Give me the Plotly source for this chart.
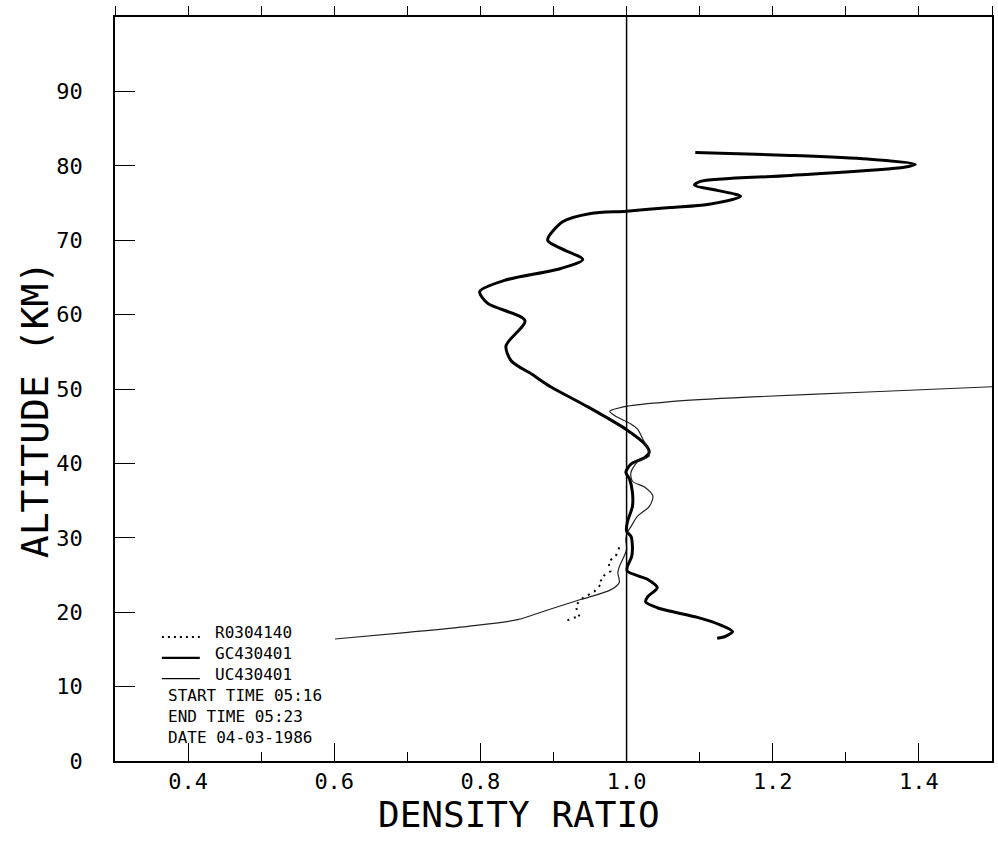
import plotly.graph_objects as go

# ---- data ----
gc_ratio = [1.094, 1.224, 1.330, 1.395, 1.380, 1.224, 1.101, 1.093, 1.124, 1.156, 1.111,
            1.060, 1.000, 0.951, 0.913, 0.892, 0.910, 0.940, 0.910, 0.833, 0.799, 0.810,
            0.861, 0.835, 0.842, 0.870, 0.896, 0.947, 0.999, 1.025, 1.031, 1.025, 1.006,
            0.999, 1.004, 1.008, 1.008, 1.001, 1.000, 1.006, 1.008, 1.007, 1.001, 1.001,
            1.029, 1.042, 1.029, 1.026, 1.042, 1.097, 1.128, 1.145, 1.134, 1.124]
gc_alt = [81.8, 81.4, 80.9, 80.2, 79.8, 78.7, 77.9, 77.4, 76.7, 75.9, 74.8,
          74.4, 73.9, 73.6, 72.5, 70.0, 68.9, 67.4, 66.2, 64.6, 63.1, 61.5,
          59.2, 55.8, 53.8, 52.0, 50.3, 47.6, 44.6, 42.6, 41.5, 40.8, 39.9,
          38.8, 37.9, 36.1, 34.2, 32.1, 30.9, 30.2, 28.8, 27.5, 26.1, 25.5,
          24.4, 23.3, 22.1, 21.4, 20.6, 19.3, 18.3, 17.4, 16.7, 16.5]

uc_ratio = [1.500, 1.330, 1.165, 1.060, 1.001, 0.977, 0.984, 1.006, 1.015, 1.022, 1.029,
            1.031, 1.015, 1.006, 1.008, 1.025, 1.036, 1.031, 1.015, 1.006, 1.001, 0.999,
            1.000, 0.990, 0.988, 0.990, 0.978, 0.937, 0.892, 0.851, 0.783, 0.701, 0.601]
uc_alt = [50.3, 49.6, 48.9, 48.3, 47.7, 47.0, 46.4, 45.3, 44.6, 43.3, 41.9,
          41.0, 40.2, 38.8, 37.6, 36.8, 35.6, 34.2, 32.9, 31.5, 30.7, 29.8,
          28.4, 26.1, 25.3, 24.0, 23.0, 21.7, 20.3, 19.0, 18.1, 17.3, 16.4]

r_ratio = [0.990, 0.985, 0.975, 0.978, 0.971, 0.964, 0.967, 0.960, 0.956, 0.937,
           0.930, 0.933, 0.936, 0.929, 0.919]
r_alt = [28.7, 27.5, 26.8, 25.5, 25.1, 24.4, 24.0, 23.3, 22.8, 21.7,
         20.8, 20.1, 19.3, 19.3, 18.9]

series_names = ["R0304140", "GC430401", "UC430401"]
info_lines = ["START TIME 05:16", "END TIME 05:23", "DATE 04-03-1986"]

x_tickvals = [0.4, 0.6, 0.8, 1.0, 1.2, 1.4]
x_ticktext = ["0.4", "0.6", "0.8", "1.0", "1.2", "1.4"]
y_tickvals = [0, 10, 20, 30, 40, 50, 60, 70, 80, 90]
y_ticktext = ["0", "10", "20", "30", "40", "50", "60", "70", "80", "90"]
x_title = "DENSITY RATIO"
y_title = "ALTITUDE (KM)"
REF_RATIO = 1.0

FONT = "DejaVu Sans Mono"
W, H = 998, 842
ML, MR, MT, MB = 115, 4, 17, 81
LEG_FS = 16
ROW = 1.3 * LEG_FS  # plotly line spacing

fig = go.Figure()
fig.add_trace(go.Scatter(x=r_ratio, y=r_alt, mode="lines", name=series_names[0],
                         line=dict(color="black", width=2, dash="2px,5px"), showlegend=False))
fig.add_trace(go.Scatter(x=gc_ratio, y=gc_alt, mode="lines", name=series_names[1],
                         line=dict(color="black", width=3, shape="spline", smoothing=0.8),
                         showlegend=False))
fig.add_trace(go.Scatter(x=uc_ratio, y=uc_alt, mode="lines", name=series_names[2],
                         line=dict(color="#222", width=1.2, shape="spline", smoothing=0.8),
                         showlegend=False))

fig.add_shape(type="line", xref="x", yref="y", x0=REF_RATIO, x1=REF_RATIO, y0=0, y1=100,
              line=dict(color="black", width=1.5))


def px2paper_x(px):
    return (px - ML) / (W - ML - MR)


def py2paper_y(py):
    return (H - MB - py) / (H - MT - MB)


# legend samples + text
sample_styles = [dict(width=2, dash="2px,4px"), dict(width=2.2), dict(width=1.2)]
top_row = 633
for i, sty in enumerate(sample_styles):
    ry = top_row + ROW * i
    fig.add_shape(type="line", xref="paper", yref="paper",
                  x0=px2paper_x(162), x1=px2paper_x(200),
                  y0=py2paper_y(ry + 4), y1=py2paper_y(ry + 4),
                  line=dict(color="black", **sty))
fig.add_annotation(xref="paper", yref="paper", x=px2paper_x(213),
                   y=py2paper_y(top_row + ROW), text="<br>".join(series_names),
                   showarrow=False, xanchor="left", yanchor="middle", align="left",
                   font=dict(family=FONT, size=LEG_FS, color="black"))
fig.add_annotation(xref="paper", yref="paper", x=px2paper_x(166),
                   y=py2paper_y(top_row + ROW * 4), text="<br>".join(info_lines),
                   showarrow=False, xanchor="left", yanchor="middle", align="left",
                   font=dict(family=FONT, size=LEG_FS, color="black"))

# axis titles
fig.add_annotation(xref="paper", yref="paper", x=px2paper_x(520), y=py2paper_y(814),
                   text=x_title, showarrow=False, xanchor="center", yanchor="middle",
                   font=dict(family=FONT, size=36, color="black"))
fig.add_annotation(xref="paper", yref="paper", x=px2paper_x(35), y=py2paper_y(410),
                   text=y_title, showarrow=False, xanchor="center", yanchor="middle",
                   textangle=-90, font=dict(family=FONT, size=38, color="black"))

fig.update_layout(
    width=W, height=H,
    margin=dict(l=ML, r=MR, t=MT, b=MB),
    paper_bgcolor="white", plot_bgcolor="white",
    showlegend=False,
    font=dict(family=FONT, color="black"),
    xaxis=dict(range=[0.3, 1.5], showgrid=False, zeroline=False,
               showline=True, linecolor="black", linewidth=1.5, mirror=True,
               ticks="inside", ticklen=18, tickwidth=1.2, tickcolor="black",
               tickvals=x_tickvals, ticktext=x_ticktext,
               tickfont=dict(family=FONT, size=22),
               minor=dict(ticks="inside", ticklen=9, dtick=0.1, tick0=0.3, tickcolor="black",
                          tickwidth=1.2, showgrid=False)),
    xaxis2=dict(range=[0.3, 1.5], overlaying="x", side="top", anchor="y", matches="x",
                showgrid=False, zeroline=False, showticklabels=False,
                ticks="outside", ticklen=10, tickwidth=1.2, tickcolor="black",
                dtick=0.1, tick0=0.3),
    yaxis=dict(range=[0, 100], showgrid=False, zeroline=False,
               showline=True, linecolor="black", linewidth=1.5, mirror=True,
               ticks="inside", ticklen=20, tickwidth=1.2, tickcolor="black",
               tickvals=y_tickvals, ticktext=y_ticktext,
               tickfont=dict(family=FONT, size=22), ticklabelstandoff=26),
)
fig.add_trace(go.Scatter(x=[None], y=[None], xaxis="x2", yaxis="y", showlegend=False,
                         hoverinfo="skip"))

fig.write_html("out.html")
